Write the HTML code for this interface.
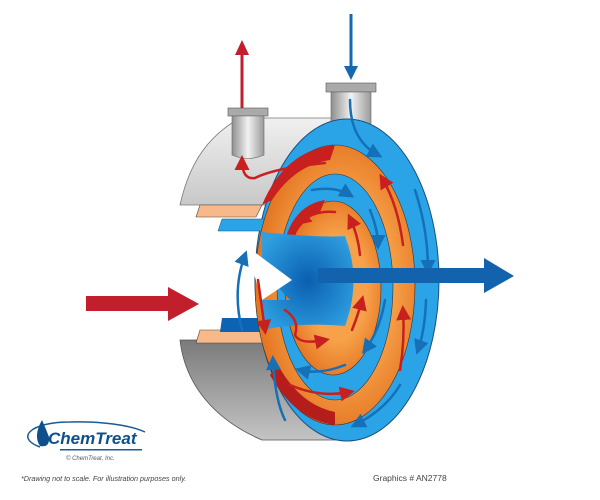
<!DOCTYPE html>
<html><head><meta charset="utf-8"><style>
html,body{margin:0;padding:0;background:#fff;width:600px;height:500px;overflow:hidden}
svg{display:block}
</style></head><body>
<svg width="600" height="500" viewBox="0 0 600 500" xmlns="http://www.w3.org/2000/svg">
<defs>
<linearGradient id="gr" x1="0" y1="0" x2="1" y2="0"><stop offset="0" stop-color="#8e8e8e"/><stop offset="0.5" stop-color="#f2f2f2"/><stop offset="1" stop-color="#9a9a9a"/></linearGradient>
<linearGradient id="gs" x1="0" y1="0" x2="0" y2="1"><stop offset="0" stop-color="#f0f0f0"/><stop offset="1" stop-color="#c8c8c8"/></linearGradient>
<linearGradient id="gb" x1="0" y1="0" x2="0" y2="1"><stop offset="0" stop-color="#7a7a7a"/><stop offset="1" stop-color="#c4c4c4"/></linearGradient>
<radialGradient id="or" cx="0.55" cy="0.5" r="0.6"><stop offset="0.5" stop-color="#f7a24a"/><stop offset="1" stop-color="#e06a18"/></radialGradient>
<radialGradient id="hb" cx="0.5" cy="0.5" r="0.6"><stop offset="0" stop-color="#0a5fb0"/><stop offset="1" stop-color="#2f9fe0"/></radialGradient>
<marker id="ab" markerWidth="6" markerHeight="6" refX="4" refY="3" orient="auto"><path d="M0 0 L6 3 L0 6 Z" fill="#1570b8"/></marker>
<marker id="ar" markerWidth="6" markerHeight="6" refX="4" refY="3" orient="auto"><path d="M0 0 L6 3 L0 6 Z" fill="#c8201e"/></marker>
</defs>
<!-- grey shell top -->
<path d="M240 118 L335 118 L330 205 L180 205 C190 160 210 135 240 118 Z" fill="url(#gs)" stroke="#777" stroke-width="0.8"/>
<path d="M180 340 L300 340 L345 440 L262 440 C215 420 185 385 180 340 Z" fill="url(#gb)" stroke="#555" stroke-width="0.8"/>
<!-- nozzles -->
<rect x="228" y="108" width="40" height="8" fill="#aaa" stroke="#555" stroke-width="0.6"/>
<path d="M232 116 H264 V155 Q248 162 232 155 Z" fill="url(#gr)" stroke="#666" stroke-width="0.6"/>
<rect x="326" y="83" width="50" height="9" fill="#aaa" stroke="#555" stroke-width="0.6"/>
<rect x="331" y="92" width="40" height="32" fill="url(#gr)" stroke="#666" stroke-width="0.6"/>
<!-- rings -->
<ellipse cx="347" cy="280" rx="92" ry="161" fill="#2aa4e6" stroke="#1b4f80" stroke-width="1"/>
<!-- flange strips -->
<path d="M200 205 L262 205 L256 217 L196 217 Z" fill="#f7b98a" stroke="#444" stroke-width="0.6"/>
<path d="M222 219 L268 219 L262 231 L218 231 Z" fill="#2aa4e6" stroke="#1b4f80" stroke-width="0.5"/>
<path d="M200 330 L262 330 L264 343 L196 343 Z" fill="#f7b98a" stroke="#444" stroke-width="0.6"/>
<path d="M222 318 L266 318 L268 332 L220 332 Z" fill="#0d63b3"/>
<ellipse cx="335" cy="285" rx="80" ry="140" fill="url(#or)" stroke="#333" stroke-width="0.6"/>
<path d="M262 205 Q285 150 335 145 L330 160 Q295 165 272 200 Z" fill="#c8201e"/>
<path d="M270 375 Q295 420 335 425 L335 412 Q300 405 278 365 Z" fill="#b51d1b"/>
<ellipse cx="335" cy="287" rx="58" ry="113" fill="#2aa4e6" stroke="#333" stroke-width="0.6"/>
<ellipse cx="333" cy="288" rx="48" ry="87" fill="url(#or)" stroke="#333" stroke-width="0.6"/>
<path d="M285 240 Q295 205 325 200 L320 212 Q300 220 292 242 Z" fill="#c8201e"/>
<path d="M262 232 Q320 238 345 236 Q362 280 345 326 Q300 322 262 330 L262 300 L290 300 L262 270 Z" fill="url(#hb)"/>
<path d="M245 245 L292 280 L262 300 Z" fill="#fff"/>
<!-- flow arrows inside -->
<g fill="none" stroke-width="2.5" stroke-linecap="round">
<path d="M350 100 Q350 140 378 155" stroke="#1570b8" marker-end="url(#ab)"/>
<path d="M415 190 Q428 230 428 270" stroke="#1570b8" marker-end="url(#ab)"/>
<path d="M426 300 Q425 330 418 350" stroke="#1570b8" marker-end="url(#ab)"/>
<path d="M400 385 Q385 410 355 425" stroke="#1570b8" marker-end="url(#ab)"/>
<path d="M312 190 Q335 186 350 195" stroke="#1570b8" marker-end="url(#ab)"/>
<path d="M370 210 Q378 230 378 245" stroke="#1570b8" marker-end="url(#ab)"/>
<path d="M385 300 Q380 330 365 350" stroke="#1570b8" marker-end="url(#ab)"/>
<path d="M345 365 Q320 375 300 370" stroke="#1570b8" marker-end="url(#ab)"/>
<path d="M403 245 Q398 205 382 178" stroke="#c8201e" marker-end="url(#ar)"/>
<path d="M400 370 Q405 340 403 310" stroke="#c8201e" marker-end="url(#ar)"/>
<path d="M360 255 Q358 235 350 218" stroke="#c8201e" marker-end="url(#ar)"/>
<path d="M335 212 Q315 210 300 222" stroke="#c8201e" marker-end="url(#ar)"/>
<path d="M352 330 Q358 315 362 300" stroke="#c8201e" marker-end="url(#ar)"/>
<path d="M285 310 Q300 320 295 335 Q300 345 325 340" stroke="#c8201e" marker-end="url(#ar)"/>
<path d="M325 163 Q275 168 255 178 Q242 180 242 160" stroke="#c8201e" marker-end="url(#ar)"/>
<path d="M290 385 Q320 398 350 392" stroke="#c8201e" marker-end="url(#ar)"/>
<path d="M242 330 Q232 290 245 255" stroke="#1570b8" marker-end="url(#ab)"/>
<path d="M258 280 L265 330" stroke="#c8201e" marker-end="url(#ar)"/>
<path d="M285 420 Q275 400 273 360" stroke="#1570b8" marker-end="url(#ab)"/>
</g>
<!-- external arrows -->
<path d="M242 108 V50" stroke="#c21f2c" stroke-width="3"/>
<path d="M235 55 L242 40 L249 55 Z" fill="#c21f2c"/>
<path d="M351 14 V70" stroke="#1768ae" stroke-width="3"/>
<path d="M344 66 L351 80 L358 66 Z" fill="#1768ae"/>
<path d="M86 296 H168 V287 L199 304 L168 321 V311 H86 Z" fill="#c21f2c"/>
<path d="M318 268 H484 V258 L514 276 L484 293 V283 H318 Z" fill="#1262ad"/>
<!-- logo -->
<path d="M40 447 C15 438 30 422 70 422 C100 421 130 425 145 432" fill="none" stroke="#1b5a95" stroke-width="1.5"/>
<path d="M42 420 Q33 436 40 446 Q50 448 49 437 Q46 429 42 420 Z" fill="#0f4f8a"/>
<rect x="60" y="449" width="82" height="1.5" fill="#1b5a95"/>
<text x="48" y="444" font-family="Liberation Sans, sans-serif" font-size="17" font-weight="bold" font-style="italic" fill="#0f4f8a">ChemTreat</text>
<text x="66" y="460" font-family="Liberation Sans, sans-serif" font-size="6" font-style="italic" fill="#555">© ChemTreat, Inc.</text>
<text x="21" y="481" font-family="Liberation Sans, sans-serif" font-size="7.2" font-style="italic" fill="#444">*Drawing not to scale. For illustration purposes only.</text>
<text x="373" y="481" font-family="Liberation Sans, sans-serif" font-size="8.5" fill="#444">Graphics # AN2778</text>
</svg>
</body></html>
